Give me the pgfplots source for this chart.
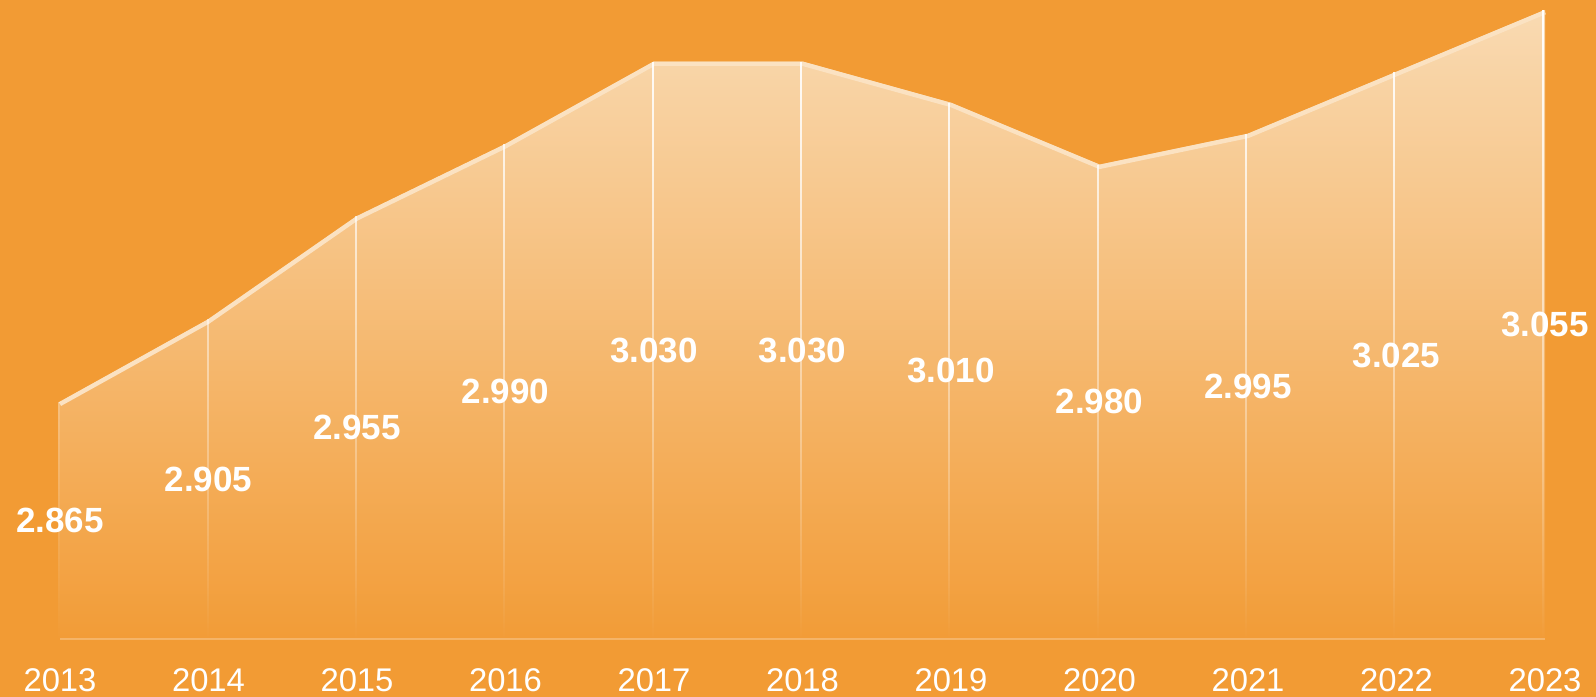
\documentclass[border=0pt]{standalone}
\usepackage{fontspec}
\setmainfont{Liberation Sans}
\usepackage{pgfplots}
\usepackage{pgfplotstable}
\pgfplotsset{compat=1.18}
\usetikzlibrary{fadings}
\definecolor{bg}{HTML}{F29B34}
\definecolor{ftop}{HTML}{F9DAB2}
\definecolor{fbot}{HTML}{F29C37}
\definecolor{lineC}{HTML}{FBE2C2}
\pgfplotstableread{
year val lab
2013 2.865 2.865
2014 2.905 2.905
2015 2.955 2.955
2016 2.990 2.990
2017 3.030 3.030
2018 3.030 3.030
2019 3.010 3.010
2020 2.980 2.980
2021 2.995 2.995
2022 3.025 3.025
2023 3.055 3.055
}\data
\begin{document}
\begin{tikzpicture}
\useasboundingbox (-30bp,-29bp) rectangle (768bp,319.5bp);
\fill[bg] (-30bp,-29bp) rectangle (768bp,319.5bp);
\begin{axis}[
  scale only axis, width=742.5bp, height=314.5bp,
  xmin=2013, xmax=2023, ymin=2.75, ymax=3.055,
  axis line style={draw=none},
  hide y axis,
  major tick length=0pt,
  xtick={2013,2014,2015,2016,2017,2018,2019,2020,2021,2022,2023},
  xticklabels={2013,2014,2015,2016,2017,2018,2019,2020,2021,2022,2023},
  xticklabel style={font=\fontsize{16.4bp}{18bp}\selectfont, text=white, anchor=center, yshift=-20.5bp},
  clip=false,
]
\addplot[draw=none, top color=ftop, bottom color=fbot] table[x=year, y=val]{\data} \closedcycle;
\addplot[white, opacity=0.25, line width=0.75bp] coordinates {(2013,2.75) (2023,2.75)};
\addplot[lineC, line width=2.2bp, yshift=-1.1bp] table[x=year, y=val]{\data};
\addplot[white, line width=1bp, unbounded coords=jump, path fading=south] coordinates {
 (2013,2.865) (2013,2.75) (2013,nan)
 (2014,2.905) (2014,2.75) (2014,nan)
 (2015,2.955) (2015,2.75) (2015,nan)
 (2016,2.990) (2016,2.75) (2016,nan)
 (2017,3.030) (2017,2.75) (2017,nan)
 (2018,3.030) (2018,2.75) (2018,nan)
 (2019,3.010) (2019,2.75) (2019,nan)
 (2020,2.980) (2020,2.75) (2020,nan)
 (2021,2.995) (2021,2.75) (2021,nan)
 (2022,3.025) (2022,2.75) (2022,nan)
 (2023,3.055) (2023,2.75)
};
\addplot[draw=none, mark=none, point meta=explicit symbolic,
  nodes near coords,
  every node near coord/.append style={anchor=center, text=white, font=\fontsize{17.5bp}{19bp}\selectfont\bfseries}]
  table[x=year, y expr={(\thisrow{val}+2.75)/2}, meta=lab]{\data};
\end{axis}
\end{tikzpicture}
\end{document}
